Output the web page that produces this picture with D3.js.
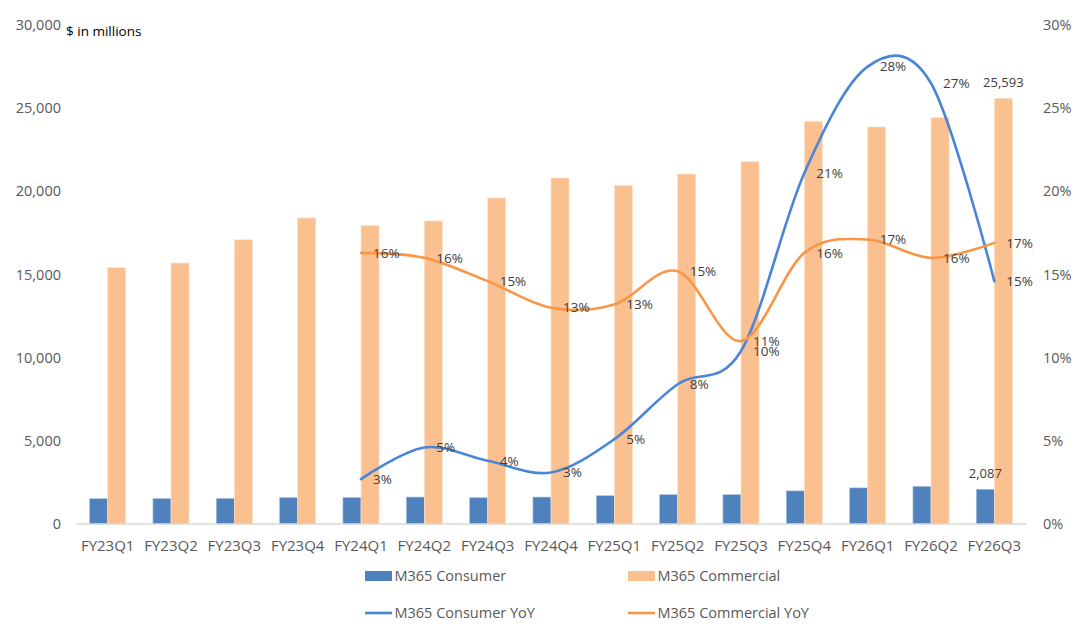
<!DOCTYPE html>
<html>
<head>
<meta charset="utf-8">
<script src="https://cdn.jsdelivr.net/npm/d3@7"></script>
<style>
  body { margin: 0; background: #fff; }
  svg text { font-family: "Open Sans", "Noto Sans", sans-serif; }
</style>
</head>
<body>
<div id="chart-area"></div>
<script>
// quarters on the x axis
const quarters = ["FY23Q1","FY23Q2","FY23Q3","FY23Q4","FY24Q1","FY24Q2","FY24Q3","FY24Q4",
                  "FY25Q1","FY25Q2","FY25Q3","FY25Q4","FY26Q1","FY26Q2","FY26Q3"];

// revenue, $ in millions
const consumerRev   = [1520,1530,1540,1590,1590,1620,1580,1620,1700,1760,1760,1990,2170,2260,2087];
const commercialRev = [15410,15690,17090,18400,17935,18220,19600,20800,20365,21040,21780,24210,23870,24430,25593];

// YoY growth (%), starts at FY24Q1
const consumerYoY   = [null,null,null,null,2.7,4.6,3.8,3.1,5.1,8.4,10.4,21.1,27.5,26.5,14.6];
const commercialYoY = [null,null,null,null,16.3,16.0,14.6,13.0,13.2,15.2,11.0,16.3,17.1,16.0,16.9];

const leftTicks  = [0,5000,10000,15000,20000,25000,30000];
const rightTicks = [0,5,10,15,20,25,30];

const blueBar = "#4f81bd", peachBar = "#fac090";
const blueLine = "#4a86d8", orangeLine = "#f79646";

const W = 1080, H = 634;
const margin = {left: 76, right: 1026, top: 25, bottom: 524};

const svg = d3.select("#chart-area").append("svg")
  .attr("width", W).attr("height", H);

// scales
const x0 = d3.scaleBand().domain(quarters).range([margin.left, margin.right])
  .paddingInner(0.43).paddingOuter(0.215);
const x1 = d3.scaleBand().domain(["consumer","commercial"]).range([0, x0.bandwidth()]);
const yL = d3.scaleLinear().domain([0, 30000]).range([margin.bottom, margin.top]);
const yR = d3.scaleLinear().domain([0, 30]).range([margin.bottom, margin.top]);
const cx = q => x0(q) + x0.bandwidth() / 2;

// left axis
svg.append("g")
  .attr("transform", "translate(" + margin.left + ",0)")
  .call(d3.axisLeft(yL).tickValues(leftTicks).tickSize(0).tickPadding(15)
        .tickFormat(d3.format(",")))
  .call(g => g.select(".domain").remove())
  .selectAll("text").attr("fill", "#595959").attr("font-size", "14.5px");

// right axis
svg.append("g")
  .attr("transform", "translate(" + margin.right + ",0)")
  .call(d3.axisRight(yR).tickValues(rightTicks).tickSize(0).tickPadding(17)
        .tickFormat(d => d + "%"))
  .call(g => g.select(".domain").remove())
  .selectAll("text").attr("fill", "#595959").attr("font-size", "14.5px");

svg.append("text")
  .attr("x", 66).attr("y", 31).attr("dy", "0.35em")
  .attr("font-size", "13.5px").attr("fill", "#000")
  .text("$ in millions");

// bars
const groups = svg.selectAll("g.quarter")
  .data(quarters.map((q, i) => ({ q: q, consumer: consumerRev[i], commercial: commercialRev[i] })))
  .enter().append("g")
  .attr("class", "quarter")
  .attr("transform", d => "translate(" + x0(d.q) + ",0)");

groups.append("rect")
  .attr("x", x1("consumer")).attr("width", x1.bandwidth())
  .attr("y", d => yL(d.consumer)).attr("height", d => yL(0) - yL(d.consumer))
  .attr("fill", blueBar).attr("stroke", "#a9c1e0").attr("stroke-width", 0.6);

groups.append("rect")
  .attr("x", x1("commercial")).attr("width", x1.bandwidth())
  .attr("y", d => yL(d.commercial)).attr("height", d => yL(0) - yL(d.commercial))
  .attr("fill", peachBar).attr("stroke", "#fde3cc").attr("stroke-width", 0.6);

// x axis baseline + labels
svg.append("line")
  .attr("x1", margin.left).attr("x2", margin.right)
  .attr("y1", margin.bottom).attr("y2", margin.bottom)
  .attr("stroke", "#d9d9d9").attr("stroke-width", 1.5);

svg.append("g").selectAll("text")
  .data(quarters).enter().append("text")
  .attr("x", d => cx(d)).attr("y", 546).attr("dy", "0.35em")
  .attr("text-anchor", "middle").attr("font-size", "15px").attr("fill", "#595959")
  .text(d => d);

// YoY lines
const lineGen = d3.line()
  .defined(d => d.v != null)
  .x(d => cx(d.q)).y(d => yR(d.v))
  .curve(d3.curveCardinal.tension(0));

function yoyData(arr) {
  return quarters.map((q, i) => ({ q: q, v: arr[i] })).filter(d => d.v != null);
}

[[consumerYoY, blueLine], [commercialYoY, orangeLine]].forEach(([arr, col]) => {
  svg.append("path")
    .datum(yoyData(arr))
    .attr("d", lineGen)
    .attr("fill", "none").attr("stroke", col).attr("stroke-width", 2.6)
    .attr("stroke-linecap", "round");
});

// YoY labels (to the right of each point)
[consumerYoY, commercialYoY].forEach(arr => {
  svg.append("g").selectAll("text")
    .data(yoyData(arr)).enter().append("text")
    .attr("x", d => cx(d.q) + 12).attr("y", d => yR(d.v)).attr("dy", "0.35em")
    .attr("font-size", "13.5px").attr("fill", "#404040")
    .text(d => Math.round(d.v) + "%");
});

// value labels on the last quarter's bars
const last = quarters.length - 1;
const lq = quarters[last];
svg.append("text")
  .attr("x", x0(lq) + x1("consumer") + x1.bandwidth() / 2)
  .attr("y", yL(consumerRev[last]) - 16).attr("dy", "0.35em")
  .attr("text-anchor", "middle").attr("font-size", "13px").attr("fill", "#404040")
  .text(d3.format(",")(consumerRev[last]));
svg.append("text")
  .attr("x", x0(lq) + x1("commercial") + x1.bandwidth() / 2)
  .attr("y", yL(commercialRev[last]) - 16).attr("dy", "0.35em")
  .attr("text-anchor", "middle").attr("font-size", "13px").attr("fill", "#404040")
  .text(d3.format(",")(commercialRev[last]));

// legend
const legendItems = [
  { name: "M365 Consumer", type: "bar", color: blueBar, x: 365, y: 576 },
  { name: "M365 Commercial", type: "bar", color: peachBar, x: 628, y: 576 },
  { name: "M365 Consumer YoY", type: "line", color: blueLine, x: 365, y: 613 },
  { name: "M365 Commercial YoY", type: "line", color: orangeLine, x: 628, y: 613 }
];
const lg = svg.append("g").selectAll("g").data(legendItems).enter().append("g")
  .attr("transform", d => "translate(" + d.x + "," + d.y + ")");
lg.filter(d => d.type === "bar").append("rect")
  .attr("x", 0).attr("y", -5).attr("width", 27).attr("height", 10)
  .attr("fill", d => d.color);
lg.filter(d => d.type === "line").append("line")
  .attr("x1", 0).attr("x2", 27).attr("y1", 0).attr("y2", 0)
  .attr("stroke", d => d.color).attr("stroke-width", 2.6);
lg.append("text")
  .attr("x", 29.5).attr("y", 0).attr("dy", "0.35em")
  .attr("font-size", "14.5px").attr("fill", "#595959")
  .text(d => d.name);
</script>
</body>
</html>
